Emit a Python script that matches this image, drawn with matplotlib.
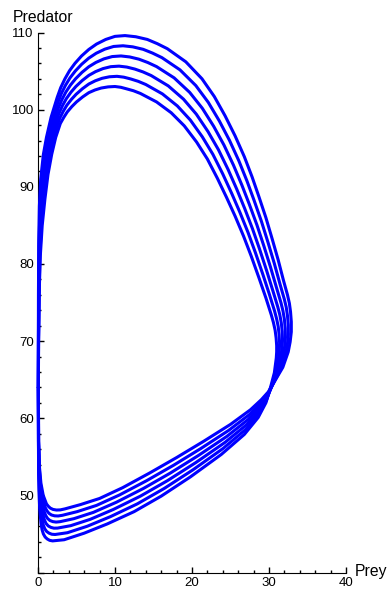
import matplotlib
matplotlib.use("Agg")
import matplotlib.pyplot as plt
from matplotlib.ticker import MultipleLocator

plt.rcParams['font.family'] = ['Liberation Sans', 'DejaVu Sans']

# six orbit traces in the prey/predator plane, outermost (a) to innermost (f),
# each run counter-clockwise from the left edge
orbit_a_prey = [0.05, 0.08, 0.18, 0.38, 0.68, 1.1,
                1.33, 1.6, 1.95, 2.4, 2.9, 3.5, 5.5,
                8.0, 11.0, 14.5, 18.0, 21.5, 25.0, 27.6, 29.0, 29.9, 30.8, 31.8, 32.5,
                32.75, 32.9, 32.9, 32.8, 32.65, 32.4,
                31.9, 31.2, 30.4, 29.6, 28.7, 27.8, 26.8, 25.6, 24.3, 22.9, 21.3, 19.2, 16.8,
                15.5, 14.2, 12.7, 11.3, 10.0, 8.8, 7.6, 6.6, 5.65, 4.8, 4.1, 3.5, 2.95, 2.5,
                1.7, 1.1, 0.7, 0.35, 0.18, 0.1, 0.06, 0.05, 0.05]
orbit_a_pred = [64.0, 57.0, 53.8, 51.6, 50.0, 48.9,
                48.6, 48.35, 48.18, 48.1, 48.12, 48.25, 48.8,
                49.6, 51.0, 52.9, 54.9, 57.0, 59.2, 61.1, 62.4, 63.4, 64.9, 66.6, 68.6,
                69.9, 71.2, 72.5, 73.8, 74.9, 76.0,
                77.8, 80.5, 83.3, 86.0, 88.7, 91.3, 93.9, 96.6, 99.2, 101.7, 104.0, 106.2, 107.9,
                108.55, 109.1, 109.45, 109.6, 109.5, 109.1, 108.5, 107.8, 106.95, 106.0, 105.05, 104.0, 102.85, 101.6,
                99.0, 96.4, 94.2, 91.0, 87.5, 83.0, 76.0, 70.0, 64.0]

orbit_b_prey = [0.05, 0.08, 0.16, 0.33, 0.59, 0.96,
                1.17, 1.42, 1.75, 2.16, 2.62, 3.18, 5.08,
                7.6, 10.6, 14.1, 17.6, 21.16, 24.76, 27.44, 28.92, 29.84, 30.68, 31.58, 32.19,
                32.4, 32.52, 32.51, 32.4, 32.24, 31.98,
                31.44, 30.7, 29.86, 29.02, 28.08, 27.14, 26.1, 24.88, 23.56, 22.12, 20.5, 18.44, 16.1,
                14.88, 13.66, 12.31, 11.04, 9.82, 8.68, 7.56, 6.6, 5.68, 4.84, 4.16, 3.56, 3.03, 2.58,
                1.82, 1.24, 0.82, 0.46, 0.25, 0.14, 0.08, 0.06, 0.05]
orbit_b_pred = [64.0, 57.0, 53.64, 51.38, 49.66, 48.38,
                47.99, 47.68, 47.46, 47.35, 47.33, 47.42, 47.89,
                48.7, 50.06, 51.9, 53.9, 56.08, 58.42, 60.46, 61.94, 63.12, 64.72, 66.46, 68.44,
                69.64, 70.84, 72.08, 73.32, 74.4, 75.48,
                77.36, 80.04, 82.84, 85.52, 88.2, 90.76, 93.34, 96.0, 98.52, 100.94, 103.12, 105.16, 106.74,
                107.33, 107.82, 108.14, 108.28, 108.19, 107.84, 107.31, 106.68, 105.89, 105.0, 104.12, 103.14, 102.08, 100.92,
                98.48, 95.96, 93.68, 90.48, 87.0, 82.6, 76.0, 70.0, 64.0]

orbit_c_prey = [0.05, 0.07, 0.14, 0.28, 0.50, 0.82,
                1.01, 1.24, 1.54, 1.92, 2.35, 2.86, 4.66,
                7.2, 10.2, 13.7, 17.2, 20.82, 24.52, 27.28, 28.84, 29.78, 30.56, 31.36, 31.88,
                32.05, 32.14, 32.11, 32.0, 31.82, 31.56,
                30.98, 30.2, 29.32, 28.44, 27.46, 26.48, 25.4, 24.16, 22.82, 21.34, 19.7, 17.68, 15.4,
                14.26, 13.12, 11.92, 10.78, 9.64, 8.56, 7.52, 6.6, 5.71, 4.88, 4.22, 3.62, 3.11, 2.66,
                1.94, 1.37, 0.94, 0.57, 0.33, 0.18, 0.10, 0.06, 0.05]
orbit_c_pred = [64.0, 57.0, 53.48, 51.16, 49.32, 47.86,
                47.38, 47.01, 46.75, 46.6, 46.54, 46.59, 46.98,
                47.8, 49.12, 50.9, 52.9, 55.16, 57.64, 59.82, 61.48, 62.84, 64.54, 66.32, 68.28,
                69.38, 70.48, 71.66, 72.84, 73.9, 74.96,
                76.92, 79.58, 82.38, 85.04, 87.7, 90.22, 92.78, 95.4, 97.84, 100.18, 102.24, 104.12, 105.58,
                106.11, 106.54, 106.83, 106.96, 106.88, 106.58, 106.12, 105.56, 104.83, 104.0, 103.19, 102.28, 101.31, 100.24,
                97.96, 95.52, 93.16, 89.96, 86.5, 82.2, 76.0, 70.0, 64.0]

orbit_d_prey = [0.05, 0.07, 0.12, 0.23, 0.40, 0.68,
                0.85, 1.06, 1.34, 1.68, 2.07, 2.54, 4.24,
                6.8, 9.8, 13.3, 16.8, 20.48, 24.28, 27.12, 28.76, 29.72, 30.44, 31.14, 31.57,
                31.7, 31.76, 31.72, 31.6, 31.41, 31.14,
                30.52, 29.7, 28.78, 27.86, 26.84, 25.82, 24.7, 23.44, 22.08, 20.56, 18.9, 16.92, 14.7,
                13.64, 12.58, 11.53, 10.52, 9.46, 8.44, 7.48, 6.6, 5.74, 4.92, 4.28, 3.68, 3.19, 2.74,
                2.06, 1.51, 1.06, 0.68, 0.40, 0.22, 0.11, 0.07, 0.05]
orbit_d_pred = [64.0, 57.0, 53.32, 50.94, 48.98, 47.34,
                46.77, 46.34, 46.03, 45.85, 45.75, 45.76, 46.07,
                46.9, 48.18, 49.9, 51.9, 54.24, 56.86, 59.18, 61.02, 62.56, 64.36, 66.18, 68.12,
                69.12, 70.12, 71.24, 72.36, 73.4, 74.44,
                76.48, 79.12, 81.92, 84.56, 87.2, 89.68, 92.22, 94.8, 97.16, 99.42, 101.36, 103.08, 104.42,
                104.89, 105.26, 105.52, 105.64, 105.57, 105.32, 104.93, 104.44, 103.77, 103.0, 102.26, 101.42, 100.54, 99.56,
                97.44, 95.08, 92.64, 89.44, 86.0, 81.8, 76.0, 70.0, 64.0]

orbit_e_prey = [0.05, 0.06, 0.10, 0.18, 0.31, 0.54,
                0.69, 0.88, 1.13, 1.44, 1.80, 2.22, 3.82,
                6.4, 9.4, 12.9, 16.4, 20.14, 24.04, 26.96, 28.68, 29.66, 30.32, 30.92, 31.26,
                31.35, 31.38, 31.32, 31.2, 30.99, 30.72,
                30.06, 29.2, 28.24, 27.28, 26.22, 25.16, 24.0, 22.72, 21.34, 19.78, 18.1, 16.16, 14.0,
                13.02, 12.04, 11.14, 10.26, 9.28, 8.32, 7.44, 6.6, 5.77, 4.96, 4.34, 3.74, 3.27, 2.82,
                2.18, 1.64, 1.18, 0.79, 0.48, 0.26, 0.13, 0.07, 0.05]
orbit_e_pred = [64.0, 57.0, 53.16, 50.72, 48.64, 46.82,
                46.16, 45.67, 45.32, 45.1, 44.96, 44.93, 45.16,
                46.0, 47.24, 48.9, 50.9, 53.32, 56.08, 58.54, 60.56, 62.28, 64.18, 66.04, 67.96,
                68.86, 69.76, 70.82, 71.88, 72.9, 73.92,
                76.04, 78.66, 81.46, 84.08, 86.7, 89.14, 91.66, 94.2, 96.48, 98.66, 100.48, 102.04, 103.26,
                103.67, 103.98, 104.21, 104.32, 104.26, 104.06, 103.74, 103.32, 102.71, 102.0, 101.33, 100.56, 99.77, 98.88,
                96.92, 94.64, 92.12, 88.92, 85.5, 81.4, 76.0, 70.0, 64.0]

orbit_f_prey = [0.05, 0.06, 0.08, 0.13, 0.22, 0.4,
                0.53, 0.7, 0.93, 1.2, 1.52, 1.9, 3.4,
                6.0, 9.0, 12.5, 16.0, 19.8, 23.8, 26.8, 28.6, 29.6, 30.2, 30.7, 30.95,
                31.0, 31.0, 30.93, 30.8, 30.58, 30.3,
                29.6, 28.7, 27.7, 26.7, 25.6, 24.5, 23.3, 22.0, 20.6, 19.0, 17.3, 15.4, 13.3,
                12.4, 11.5, 10.75, 10.0, 9.1, 8.2, 7.4, 6.6, 5.8, 5.0, 4.4, 3.8, 3.35, 2.9,
                2.3, 1.78, 1.3, 0.9, 0.55, 0.3, 0.15, 0.08, 0.05]
orbit_f_pred = [64.0, 57.0, 53.0, 50.5, 48.3, 46.3,
                45.55, 45.0, 44.6, 44.35, 44.17, 44.1, 44.25,
                45.1, 46.3, 47.9, 49.9, 52.4, 55.3, 57.9, 60.1, 62.0, 64.0, 65.9, 67.8,
                68.6, 69.4, 70.4, 71.4, 72.4, 73.4,
                75.6, 78.2, 81.0, 83.6, 86.2, 88.6, 91.1, 93.6, 95.8, 97.9, 99.6, 101.0, 102.1,
                102.45, 102.7, 102.9, 103.0, 102.95, 102.8, 102.55, 102.2, 101.65, 101.0, 100.4, 99.7, 99.0, 98.2,
                96.4, 94.2, 91.6, 88.4, 85.0, 81.0, 76.0, 70.0, 64.0]

orbits = [(orbit_a_prey, orbit_a_pred), (orbit_b_prey, orbit_b_pred),
          (orbit_c_prey, orbit_c_pred), (orbit_d_prey, orbit_d_pred),
          (orbit_e_prey, orbit_e_pred), (orbit_f_prey, orbit_f_pred)]

fig = plt.figure(figsize=(3.9, 5.92), dpi=100)
ax = fig.add_axes([0.0974, 0.0329, 0.7897, 0.9122])

for prey, pred in orbits:
    ax.plot(prey, pred, color='#0000ff', lw=2.2, zorder=3, clip_on=False,
            solid_joinstyle='round', solid_capstyle='round')

ax.set_xlim(0, 40)
ax.set_ylim(40, 110)
ax.spines['top'].set_visible(False)
ax.spines['right'].set_visible(False)
ax.set_xticks([0, 10, 20, 30, 40])
ax.set_yticks([40, 50, 60, 70, 80, 90, 100, 110],
              ['', '50', '60', '70', '80', '90', '100', '110'])
ax.xaxis.set_minor_locator(MultipleLocator(2))
ax.yaxis.set_minor_locator(MultipleLocator(2))
ax.tick_params(which='both', direction='in', width=1.0, labelsize=9.5, pad=3)
ax.tick_params(which='major', length=4.3)
ax.tick_params(which='minor', length=2.4)

fig.text(12.5 / 390, 1 - 22 / 592, 'Predator', fontsize=11.3, ha='left', va='baseline')
fig.text(355 / 390, 1 - 576 / 592, 'Prey', fontsize=11.3, ha='left', va='baseline')

fig.savefig('out.png', dpi=100)
